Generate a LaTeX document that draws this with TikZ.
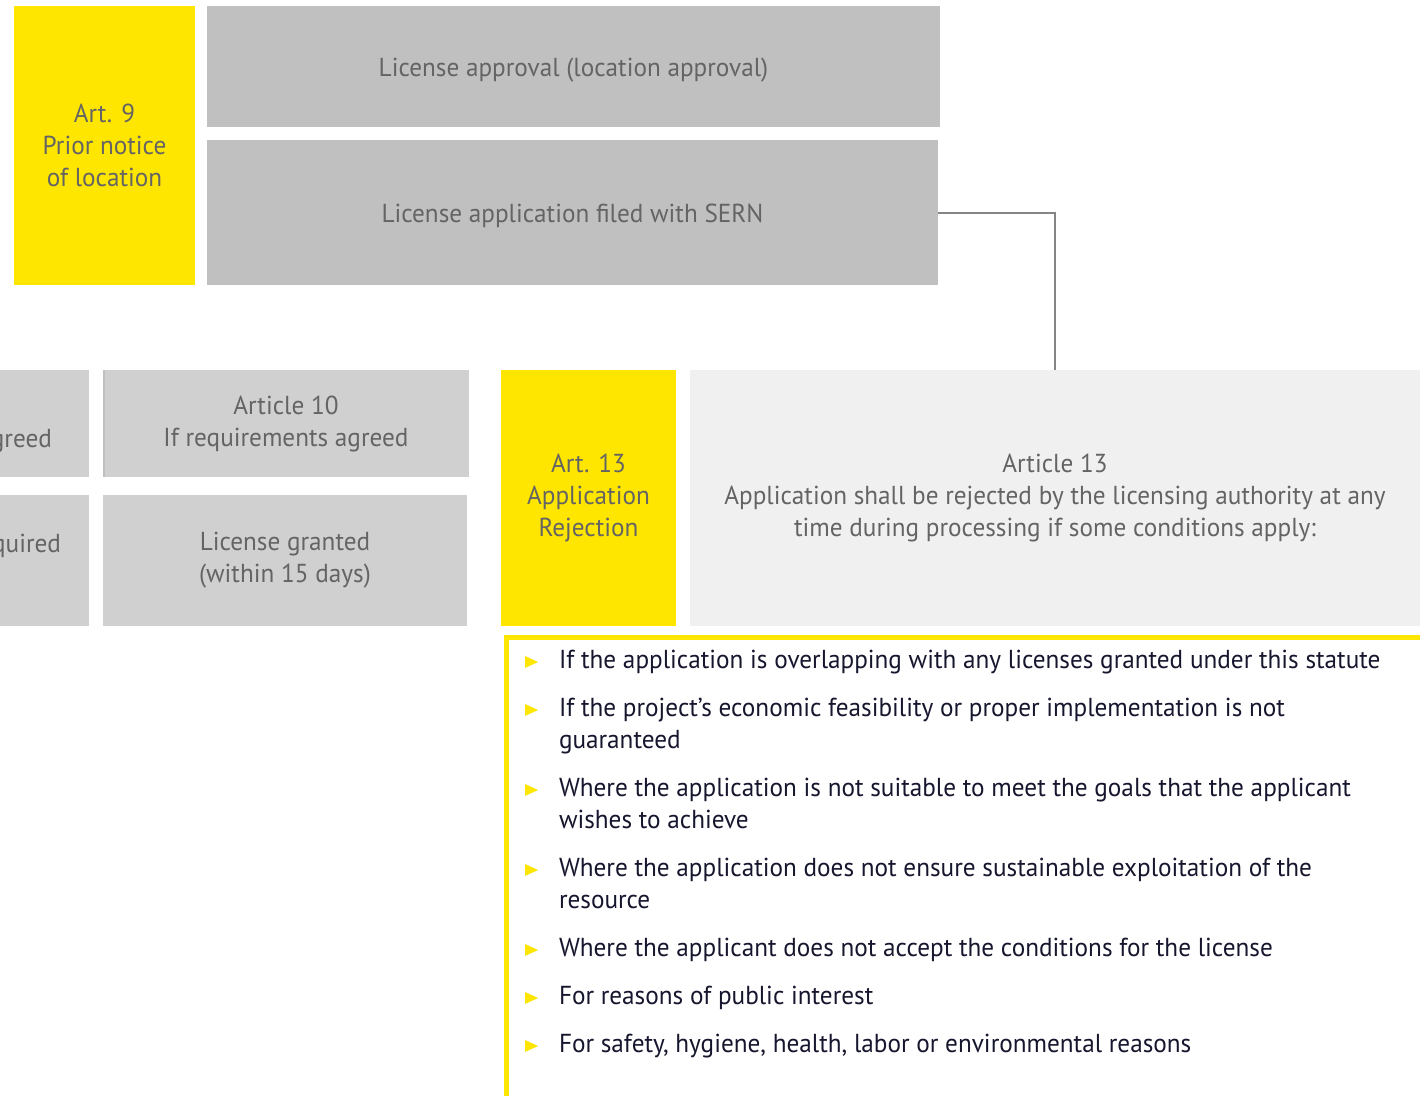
\documentclass[tikz,border=0pt]{standalone}
\usepackage{fontspec}
\setmainfont{PT Sans}[FakeStretch=0.97]
\definecolor{eyyellow}{HTML}{FFE600}
\definecolor{boxgray}{HTML}{C0C0C0}
\definecolor{midgray}{HTML}{D0D0D0}
\definecolor{palegray}{HTML}{F0F0F0}
\definecolor{labelgray}{HTML}{646464}
\definecolor{navy}{HTML}{16162E}
\definecolor{linegray}{HTML}{858585}
\begin{document}
\begin{tikzpicture}[x=1pt,y=-1pt,
  box/.style={inner sep=0pt, outer sep=0pt, draw=none, align=center, text=labelgray,
    font=\fontsize{26}{32}\selectfont},
  single/.style={text height=22pt, text depth=2pt},
  lbl/.style={inner sep=0pt, outer sep=0pt, text=labelgray, font=\fontsize{26}{32}\selectfont},
  item/.style={inner sep=0pt, outer sep=0pt, align=left, text=navy, anchor=base west,
    font=\fontsize{26}{32}\selectfont},
  tri/.style={fill=eyyellow},
  conn/.style={draw=linegray, line width=2pt}
]
\useasboundingbox (0,0) rectangle (1420,1095);
\fill[white] (0,0) rectangle (1420,1095);

% top group
\node[box, fill=eyyellow, minimum width=181pt, minimum height=279pt] (a9) at (104.5,145.5)
  {Art. 9\\Prior notice\\of location};
\node[box, single, fill=boxgray, minimum width=733pt, minimum height=121pt] (appr) at (573.5,66.5)
  {License approval (location approval)};
\node[box, single, fill=boxgray, minimum width=731pt, minimum height=145pt] (sern) at (572.5,212.5)
  {License application filed with SERN};

% left cut-off column
\begin{scope}
\clip (0,0) rectangle (1420,1095);
\node[box, fill=midgray, minimum width=89pt, minimum height=107pt] (l1) at (44.5,423.5) {};
\node[lbl, anchor=base east] (l1t) at (52,447) {If requirements agreed};
\node[box, fill=midgray, minimum width=89pt, minimum height=131pt] (l2) at (44.5,560.5) {};
\node[lbl, anchor=base east] (l2t) at (61,552) {Article required};
\end{scope}

\node[box, fill=midgray, minimum width=366pt, minimum height=107pt] (a10) at (286,423.5)
  {Article 10\\If requirements agreed};
\draw[draw=boxgray, line width=1.5pt] ([xshift=0.75pt]a10.north west) -- ([xshift=0.75pt]a10.south west);
\node[box, fill=midgray, minimum width=364pt, minimum height=131pt] (gr) at (285,560.5)
  {License granted\\(within 15 days)};

% article 13
\node[box, fill=eyyellow, minimum width=175pt, minimum height=256pt] (a13y) at (588.5,498)
  {Art. 13\\Application\\Rejection};
\node[box, fill=palegray, minimum width=730pt, minimum height=256pt] (a13) at (1055,498)
  {Article 13\\Application shall be rejected by the licensing authority at any\\time during processing if some conditions apply:};

\draw[conn] (sern.east) -| (a13.north);

% bullet panel
\node[draw=eyyellow, line width=5pt, fill=none, inner sep=0pt, anchor=north west,
  minimum width=940pt, minimum height=480pt] (panel) at (503.5,634.5) {};

\foreach \b in {668,716,796,876,956,1004,1052}{
  \fill[tri] (525,\b) -- (525,\b-12) -- (538,\b-6) -- cycle;
}
\node[item] (i1) at (559,668) {If the application is overlapping with any licenses granted under this statute};
\node[item] (i2) at (559,748) {If the project’s economic feasibility or proper implementation is not\\guaranteed};
\node[item] (i3) at (559,828) {Where the application is not suitable to meet the goals that the applicant\\wishes to achieve};
\node[item] (i4) at (559,908) {Where the application does not ensure sustainable exploitation of the\\resource};
\node[item] (i5) at (559,956) {Where the applicant does not accept the conditions for the license};
\node[item] (i6) at (559,1004) {For reasons of public interest};
\node[item] (i7) at (559,1052) {For safety, hygiene, health, labor or environmental reasons};
\end{tikzpicture}
\end{document}
